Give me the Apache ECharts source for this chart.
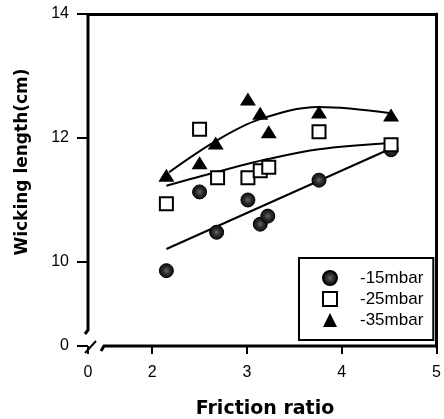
<!DOCTYPE html>
<html>
<head>
<meta charset="utf-8">
<script src="https://cdn.jsdelivr.net/npm/echarts@6/dist/echarts.min.js"></script>
<style>
  html,body{margin:0;padding:0;background:#fff;}
  #main{width:444px;height:419px;}
</style>
</head>
<body>
<div id="main"></div>
<script>
// axis break: the "0" tick sits at these values, the rest is linear
var xBreak=1.323;
var yBreak=8.645;
var xTicks=[2,3,4,5];
var yTicks=[10,12,14];

var seriesNames=['-15mbar','-25mbar','-35mbar'];

// measured points [friction ratio, wicking length]
var data15=[[2.15,9.86],[2.5,11.13],[2.68,10.48],[3.01,11.0],[3.14,10.61],[3.22,10.74],[3.76,11.32],[4.52,11.81]];
var data25=[[2.15,10.94],[2.5,12.14],[2.69,11.36],[3.01,11.36],[3.14,11.47],[3.23,11.53],[3.76,12.1],[4.52,11.89]];
var data35=[[2.15,11.4],[2.5,11.6],[2.67,11.92],[3.01,12.63],[3.14,12.4],[3.23,12.1],[3.76,12.42],[4.52,12.37]];

// fitted curves
var fit15=[[2.15,10.21],[4.52,11.83]];
var fit25=[[2.15,11.23],[2.7,11.46],[3.22,11.66],[3.76,11.82],[4.52,11.92]];
var fit35=[[2.18,11.45],[2.67,11.95],[3.13,12.3],[3.76,12.5],[4.52,12.4]];

var font='Liberation Sans';

function breakLabel(limit){
    return function(v){ return v<limit ? '0' : String(v); };
}

var myChart=echarts.init(document.getElementById('main'));

var circleFill=new echarts.graphic.RadialGradient(0.5,0.5,0.5,[
    {offset:0,color:'#666'},{offset:0.5,color:'#2a2a2a'},{offset:1,color:'#0d0d0d'}
]);

function fitLine(name,pts){
    return {
        name:name,type:'line',data:pts,smooth:0.35,
        showSymbol:false,silent:true,z:1,
        lineStyle:{color:'#000',width:2}
    };
}

var option={
    animation:false,
    grid:{left:88,top:14,right:3,bottom:73},
    legend:{
        data:seriesNames,
        orient:'vertical',
        left:299,top:258,
        padding:[10,10,10,23],
        itemWidth:14,itemHeight:14,itemGap:1,
        borderColor:'#000',borderWidth:2,
        textStyle:{fontFamily:font,fontSize:17,color:'#000',lineHeight:20,padding:[0,0,0,18]}
    },
    xAxis:[{
        type:'value',min:xBreak,max:5,
        splitLine:{show:false},
        axisLine:{show:false},
        axisTick:{show:true,length:8,lineStyle:{color:'#000',width:2},customValues:[xBreak].concat(xTicks)},
        axisLabel:{color:'#000',fontFamily:font,fontSize:16,margin:19,
            customValues:[xBreak].concat(xTicks),formatter:breakLabel(1.5)}
    },{
        type:'value',position:'top',min:xBreak,max:5,
        splitLine:{show:false},axisTick:{show:false},axisLabel:{show:false},
        axisLine:{show:true,lineStyle:{color:'#000',width:3}}
    }],
    yAxis:[{
        type:'value',min:yBreak,max:14,
        splitLine:{show:false},
        axisLine:{show:false},
        axisTick:{show:true,length:11,lineStyle:{color:'#000',width:2},customValues:[yBreak].concat(yTicks)},
        axisLabel:{color:'#000',fontFamily:font,fontSize:16,margin:19,
            customValues:[yBreak].concat(yTicks),formatter:breakLabel(9)}
    },{
        type:'value',position:'right',min:yBreak,max:14,
        splitLine:{show:false},axisTick:{show:false},axisLabel:{show:false},
        axisLine:{show:true,lineStyle:{color:'#000',width:3}}
    }],
    series:[
        fitLine('fit15',fit15),
        fitLine('fit25',fit25),
        fitLine('fit35',fit35),
        {name:seriesNames[0],type:'scatter',data:data15,symbol:'circle',symbolSize:14,z:3,
         itemStyle:{color:circleFill,borderColor:'#000',borderWidth:1,opacity:1}},
        {name:seriesNames[1],type:'scatter',data:data25,symbol:'rect',symbolSize:13,z:4,
         itemStyle:{color:'#fff',borderColor:'#000',borderWidth:2,opacity:1}},
        {name:seriesNames[2],type:'scatter',data:data35,symbol:'triangle',symbolSize:[16,13],z:5,
         itemStyle:{color:'#000',opacity:1}}
    ]
};

myChart.setOption(option);

// broken axis lines and titles
var x0=myChart.convertToPixel({xAxisIndex:0},xBreak);
var xEnd=myChart.convertToPixel({xAxisIndex:0},5);
var y0=myChart.convertToPixel({yAxisIndex:0},yBreak);
var yTop=myChart.convertToPixel({yAxisIndex:0},14);
var axisStyle={stroke:'#000',lineWidth:3,fill:null};

myChart.setOption({
    graphic:[
        {type:'polyline',shape:{points:[[x0,yTop],[x0,y0-16],[x0-3,y0-12]]},style:axisStyle},
        {type:'polyline',shape:{points:[[x0+13,y0+5],[x0+16,y0],[xEnd,y0]]},style:axisStyle},
        {type:'line',shape:{x1:x0-3,y1:y0+7,x2:x0+8,y2:y0-5},style:{stroke:'#000',lineWidth:2}},
        {type:'text',x:23,y:162,rotation:Math.PI/2,
         style:{text:'Wicking length(cm)',font:'bold 17px "DejaVu Sans"',fill:'#000',
                textAlign:'center',textVerticalAlign:'middle'}},
        {type:'text',x:265,y:409,
         style:{text:'Friction ratio',font:'bold 19px "DejaVu Sans"',fill:'#000',
                textAlign:'center',textVerticalAlign:'middle'}}
    ]
});
</script>
</body>
</html>
